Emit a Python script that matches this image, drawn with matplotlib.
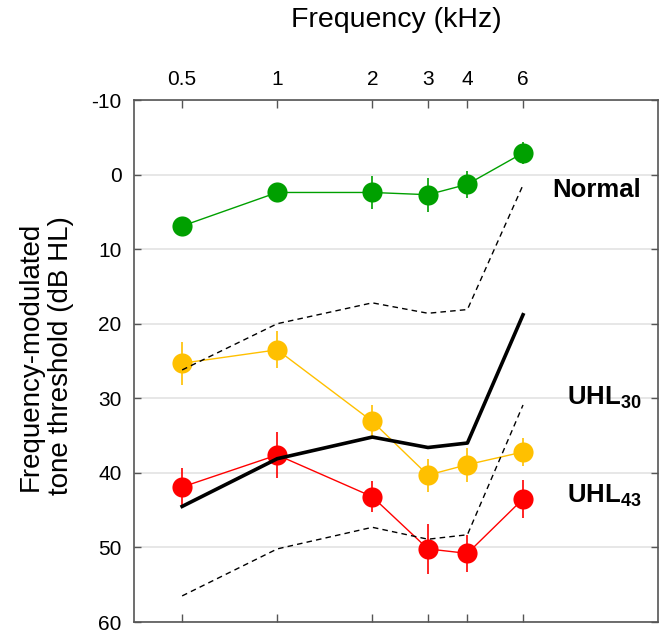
"""
Frequency-modulated tone thresholds by group (Normal, UHL30, UHL43).
"""

import numpy as np
from matplotlib import pyplot as plt
from matplotlib.ticker import FixedLocator, FixedFormatter, NullLocator
from matplotlib.transforms import blended_transform_factory

plt.rcParams['font.family'] = ['Liberation Sans', 'DejaVu Sans']
plt.rcParams['mathtext.fontset'] = 'custom'
plt.rcParams['mathtext.rm'] = 'Liberation Sans'
plt.rcParams['mathtext.bf'] = 'Liberation Sans:bold'
plt.rcParams['axes.unicode_minus'] = False

# frequencies in kHz
freqs = [0.5, 1, 2, 3, 4, 6]
freq_labels = ['0.5', '1', '2', '3', '4', '6']

# group means and error bars (dB HL)
normal = [6.9, 2.4, 2.4, 2.7, 1.3, -2.9]
normal_err = [1.0, 1.0, 2.2, 2.3, 1.8, 1.5]
uhl30 = [25.3, 23.5, 33.1, 40.3, 38.9, 37.2]
uhl30_err = [2.9, 2.5, 2.2, 2.2, 2.3, 1.9]
uhl43 = [41.9, 37.6, 43.2, 50.2, 50.8, 43.5]
uhl43_err = [2.6, 3.1, 2.1, 3.4, 2.5, 2.5]

# reference curves
solid_ref = [44.5, 38.1, 35.2, 36.6, 36.0, 18.8]
dash_upper = [26.2, 20.0, 17.2, 18.6, 18.1, 1.4]
dash_lower = [56.5, 50.2, 47.3, 48.9, 48.3, 30.9]

yticks = [-10, 0, 10, 20, 30, 40, 50, 60]

GREEN = '#00a000'
YELLOW = '#ffc000'
RED = '#ff0000'

fig = plt.figure(figsize=(6.65, 6.33), dpi=100)
ax = fig.add_axes([134 / 665, 1 - 622 / 633, (658 - 134) / 665, (622 - 100) / 633])

ax.set_xscale('log')
ax.set_xlim(0.352, 16.05)
ax.set_ylim(60, -10)

for y in yticks:
    ax.axhline(y, color='#e3e3e3', lw=1.2, zorder=0)

def group(vals, errs, color):
    ax.errorbar(freqs, vals, yerr=errs, fmt='o-', color=color, ecolor=color,
                lw=1.0, elinewidth=1.2, capsize=0, markersize=14.5,
                markeredgewidth=0, zorder=3)

group(normal, normal_err, GREEN)
group(uhl30, uhl30_err, YELLOW)
group(uhl43, uhl43_err, RED)

ax.plot(freqs, dash_upper, color='black', lw=1.0, ls=(0, (4, 3)), zorder=4)
ax.plot(freqs, dash_lower, color='black', lw=1.0, ls=(0, (4, 3)), zorder=4)
ax.plot(freqs, solid_ref, color='black', lw=2.6, zorder=5)

# ticks
ax.xaxis.set_major_locator(FixedLocator(freqs))
ax.xaxis.set_major_formatter(FixedFormatter(freq_labels))
ax.xaxis.set_minor_locator(NullLocator())
ax.set_yticks(yticks)
ax.tick_params(axis='x', which='both', direction='in', top=True, bottom=True,
               labeltop=True, labelbottom=False, length=6, width=1, color='#555555',
               labelsize=15, pad=8)
ax.tick_params(axis='y', direction='in', left=True, right=True, length=5, width=1,
               color='#555555', labelsize=15, pad=9)
for s in ax.spines.values():
    s.set_color('#555555')
    s.set_linewidth(1.2)

# group labels
tr = blended_transform_factory(ax.transAxes, ax.transData)
ax.text(0.968, 2.1, 'Normal', transform=tr, ha='right', va='center',
        fontsize=18.5, fontweight='bold')
ax.text(0.968, 30.0, r'$\mathbf{UHL_{30}}$', transform=tr, ha='right', va='center',
        fontsize=18.5)
ax.text(0.968, 43.1, r'$\mathbf{UHL_{43}}$', transform=tr, ha='right', va='center',
        fontsize=18.5)

fig.text((134 + 658) / 2 / 665, 1 - 20 / 633, 'Frequency (kHz)', ha='center',
         va='center', fontsize=20.5)
fig.text(46 / 665, 1 - 356 / 633, 'Frequency-modulated\ntone threshold (dB HL)',
         ha='center', va='center', rotation=90, fontsize=20, linespacing=1.2,
         multialignment='center')

plt.savefig('out.png', dpi=100)
